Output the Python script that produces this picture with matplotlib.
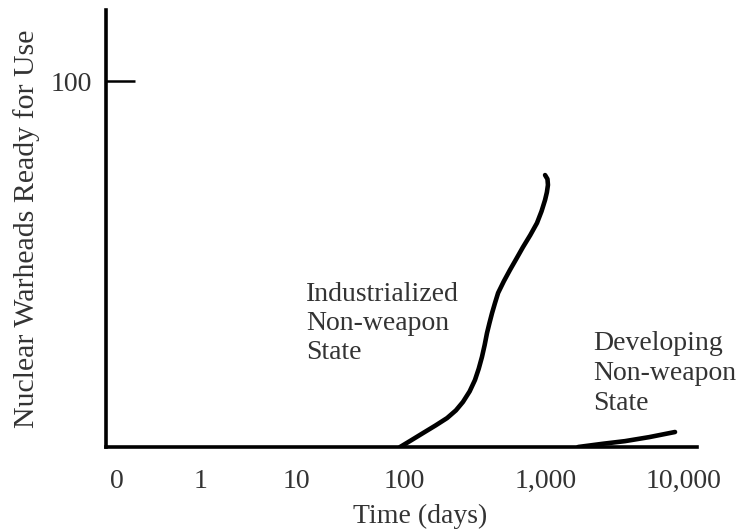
import numpy as np
import matplotlib
matplotlib.use("Agg")
import matplotlib.pyplot as plt

plt.rcParams['font.family'] = ['Liberation Serif', 'DejaVu Serif']

# x axis: days, drawn on a hand-made "0, then log decades" scale
tick_days = [0, 1, 10, 100, 1000, 10000]
tick_labels = ["0", "1", "10", "100", "1,000", "10,000"]

# industrialized non-weapon state
ind_days = [92, 112, 136, 167, 201, 232, 260, 290, 316, 336, 354, 370, 384, 400, 417,
            437, 460, 505, 558, 620, 688, 775, 864, 930, 985, 1015, 1033, 1025, 985]
ind_warheads = [0, 1.8, 3.8, 5.9, 7.9, 10.0, 12.3, 15.2, 18.3, 21.4, 24.6, 27.9, 31.1,
                33.9, 36.6, 39.3, 42.1, 45.3, 48.4, 51.5, 54.6, 57.9, 61.2, 64.4, 67.5,
                69.6, 71.6, 73.2, 74.3]

# developing non-weapon state
dev_days = [1710, 2600, 3730, 5600, 8610]
dev_warheads = [0, 0.9, 1.6, 2.7, 4.1]

# spacing of the decades on the original drawing (not even)
dec_pos = np.array([11.0, 95.0, 190.0, 298.0, 440.0, 578.0])


def fwd(d):
    d = np.asarray(d, dtype=float)
    with np.errstate(divide='ignore', invalid='ignore'):
        lg = np.log10(np.where(d > 1, d, 1.0))
    lin = dec_pos[0] + d * (dec_pos[1] - dec_pos[0])
    lp = np.interp(lg, [0, 1, 2, 3, 4], dec_pos[1:])
    lp = np.where(lg > 4, dec_pos[5] + (lg - 4) * (dec_pos[5] - dec_pos[4]), lp)
    return np.where(d <= 1, lin, lp)


def inv(p):
    p = np.asarray(p, dtype=float)
    lin = (p - dec_pos[0]) / (dec_pos[1] - dec_pos[0])
    lg = np.interp(p, dec_pos[1:], [0, 1, 2, 3, 4])
    lg = np.where(p > dec_pos[5], 4 + (p - dec_pos[5]) / (dec_pos[5] - dec_pos[4]), lg)
    return np.where(p <= dec_pos[1], lin, 10 ** lg)


fig = plt.figure(figsize=(7.4, 5.31), dpi=100)
ax = fig.add_axes([106 / 740, 84 / 531, 591 / 740, 437 / 531])

ax.set_xscale('function', functions=(fwd, inv))
ax.set_xlim(float(inv(0)), float(inv(591)))
ax.set_ylim(0, 119.4)

ax.plot(ind_days, ind_warheads, color='black', lw=3.3, solid_capstyle='round', solid_joinstyle='round')
ax.plot(dev_days, dev_warheads, color='black', lw=3.3, solid_capstyle='round')

for s in ['top', 'right']:
    ax.spines[s].set_visible(False)
for s in ['left', 'bottom']:
    ax.spines[s].set_linewidth(2.6)
    ax.spines[s].set_color('black')

txt = '#333333'
ax.set_xticks(tick_days)
ax.set_xticklabels(tick_labels)
ax.xaxis.set_minor_locator(matplotlib.ticker.NullLocator())
ax.tick_params(axis='x', length=0, pad=16, labelsize=20, labelcolor=txt)
ax.set_yticks([100])
ax.tick_params(axis='y', direction='in', length=21, width=1.8, pad=10, labelsize=20, labelcolor=txt)

ax.set_ylabel("Nuclear Warheads Ready for Use", fontsize=21.5, color=txt, labelpad=8)
fig.text(420 / 740, 1 - 523 / 531, "Time (days)", fontsize=20, color=txt,
         ha='center', va='baseline')

fig.text(306 / 740, 1 - 282 / 531, "Industrialized\nNon-weapon\nState", fontsize=20,
         color=txt, linespacing=1.2, va='top', ha='left')
fig.text(593 / 740, 1 - 331 / 531, "Developing\nNon-weapon\nState", fontsize=20,
         color=txt, linespacing=1.25, va='top', ha='left')

fig.savefig("out.png", dpi=100)
